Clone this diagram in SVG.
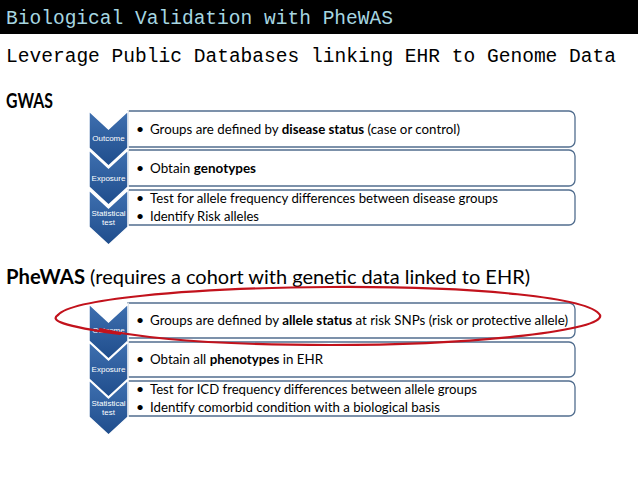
<svg xmlns="http://www.w3.org/2000/svg" width="638" height="479" viewBox="0 0 638 479">
<defs>
  <linearGradient id="chev" x1="0" y1="0" x2="0" y2="1">
    <stop offset="0" stop-color="#3f70b0"/>
    <stop offset="1" stop-color="#1f4d8c"/>
  </linearGradient>
  <style>
    .mono{font-family:"Liberation Mono","DejaVu Sans Mono",monospace;font-size:19.5px}
    .head{font-family:Lato,"Liberation Sans",Arial,sans-serif;font-size:20px;fill:#000}
    .chev{fill:url(#chev);stroke:#fff;stroke-width:1.5}
    .box{fill:#fff;stroke:#516d8e;stroke-width:1.3}
    .lbl{font-family:"Liberation Sans",Arial,sans-serif;font-size:8px;fill:#fff;text-anchor:middle}
    .txt{font-family:Lato,"Liberation Sans",Arial,sans-serif;font-size:14px;fill:#000}
    .b{font-weight:bold}
  </style>
</defs>
<rect width="638" height="479" fill="#fff"/>
<rect x="0" y="0" width="638" height="34" fill="#000"/>
<text class="mono" x="6" y="24" fill="#a6d6e1" textLength="387" lengthAdjust="spacingAndGlyphs">Biological Validation with PheWAS</text>
<text class="mono" x="6" y="62" fill="#000" textLength="610" lengthAdjust="spacingAndGlyphs">Leverage Public Databases linking EHR to Genome Data</text>
<text class="head b" x="6" y="108" textLength="47" lengthAdjust="spacingAndGlyphs">GWAS</text>
<text class="head" x="6" y="284"><tspan class="b" textLength="79" lengthAdjust="spacingAndGlyphs">PheWAS</tspan><tspan textLength="445" lengthAdjust="spacingAndGlyphs"> (requires a cohort with genetic data linked to EHR)</tspan></text>

<g id="gwas-outcome">
  <path class="box" d="M128,111 H569 A6,6 0 0 1 575,117 V141 A6,6 0 0 1 569,147 H128 Z"/>
  <path class="chev" d="M89,111 L108.5,129 L128,111 L128,148 L108.5,166 L89,148 Z"/>
  <text class="lbl" x="108.5" y="141">Outcome</text>
  <text class="txt" x="136" y="133.5">•</text>
  <text class="txt" x="150" y="133.5" textLength="310" lengthAdjust="spacingAndGlyphs">Groups are defined by <tspan class="b">disease status</tspan> (case or control)</text>
</g>
<g id="gwas-exposure">
  <path class="box" d="M128,150 H569 A6,6 0 0 1 575,156 V180 A6,6 0 0 1 569,186 H128 Z"/>
  <path class="chev" d="M89,150 L108.5,168 L128,150 L128,187 L108.5,205 L89,187 Z"/>
  <text class="lbl" x="108.5" y="181">Exposure</text>
  <text class="txt" x="136" y="172.5">•</text>
  <text class="txt" x="150" y="172.5" textLength="106" lengthAdjust="spacingAndGlyphs">Obtain <tspan class="b">genotypes</tspan></text>
</g>
<g id="gwas-test">
  <path class="box" d="M128,190 H569 A6,6 0 0 1 575,196 V219 A6,6 0 0 1 569,225 H128 Z"/>
  <path class="chev" d="M89,190 L108.5,208 L128,190 L128,227 L108.5,245 L89,227 Z"/>
  <text class="lbl" x="108.5" y="215.5">Statistical</text>
  <text class="lbl" x="108.5" y="225">test</text>
  <text class="txt" x="136" y="203">•</text>
  <text class="txt" x="150" y="203" textLength="348" lengthAdjust="spacingAndGlyphs">Test for allele frequency differences between disease groups</text>
  <text class="txt" x="136" y="221">•</text>
  <text class="txt" x="150" y="221" textLength="109" lengthAdjust="spacingAndGlyphs">Identify Risk alleles</text>
</g>

<g id="phewas-outcome">
  <path class="box" d="M128,303 H569 A6,6 0 0 1 575,309 V332 A6,6 0 0 1 569,338 H128 Z"/>
  <path class="chev" d="M89,304 L108.5,322 L128,304 L128,341 L108.5,359 L89,341 Z"/>
  <text class="lbl" x="108.5" y="333">Outcome</text>
  <text class="txt" x="136" y="325">•</text>
  <text class="txt" x="150" y="325" textLength="418" lengthAdjust="spacingAndGlyphs">Groups are defined by <tspan class="b">allele status</tspan> at risk SNPs (risk or protective allele)</text>
</g>
<g id="phewas-exposure">
  <path class="box" d="M128,342 H569 A6,6 0 0 1 575,348 V371 A6,6 0 0 1 569,377 H128 Z"/>
  <path class="chev" d="M89,342 L108.5,360 L128,342 L128,379 L108.5,397 L89,379 Z"/>
  <text class="lbl" x="108.5" y="372">Exposure</text>
  <text class="txt" x="136" y="364">•</text>
  <text class="txt" x="150" y="364" textLength="173" lengthAdjust="spacingAndGlyphs">Obtain all <tspan class="b">phenotypes</tspan> in EHR</text>
</g>
<g id="phewas-test">
  <path class="box" d="M128,381 H569 A6,6 0 0 1 575,387 V410 A6,6 0 0 1 569,416 H128 Z"/>
  <path class="chev" d="M89,380 L108.5,398 L128,380 L128,417 L108.5,435 L89,417 Z"/>
  <text class="lbl" x="108.5" y="405.5">Statistical</text>
  <text class="lbl" x="108.5" y="415">test</text>
  <text class="txt" x="136" y="394">•</text>
  <text class="txt" x="150" y="394" textLength="327" lengthAdjust="spacingAndGlyphs">Test for ICD frequency differences between allele groups</text>
  <text class="txt" x="136" y="412">•</text>
  <text class="txt" x="150" y="412" textLength="290" lengthAdjust="spacingAndGlyphs">Identify comorbid condition with a biological basis</text>
</g>

<g id="highlight">
  <path d="M120,334 C60,326 50,320 58,315 C70,300 180,288 330,287 C480,286 590,298 600,315 C606,330 480,345 330,345 C230,345 150,340 100,329" fill="none" stroke="#c2121c" stroke-width="2.2" stroke-linecap="round"/>
</g>
</svg>
